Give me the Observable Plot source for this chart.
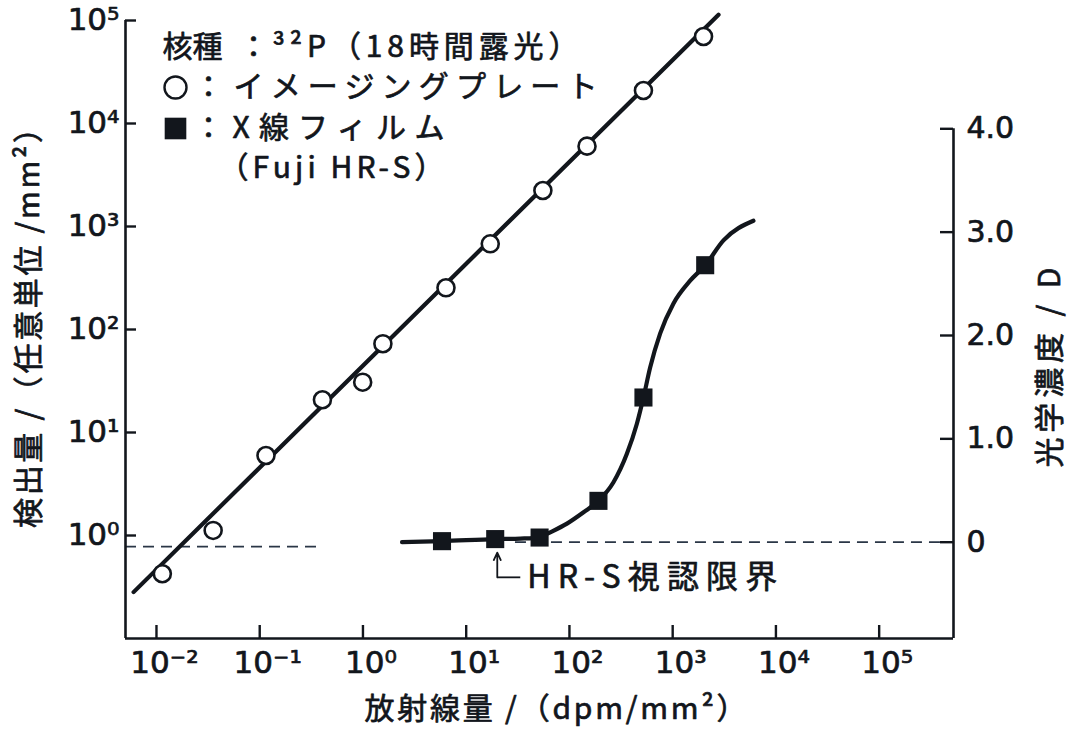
<!DOCTYPE html>
<html>
<head>
<meta charset="utf-8">
<script src="https://cdn.jsdelivr.net/npm/d3@7"></script>
<script src="https://cdn.jsdelivr.net/npm/@observablehq/plot@0.6"></script>
<style>
html, body { margin: 0; padding: 0; background: #ffffff; }
#chart svg { display: block; }
</style>
</head>
<body>
<div id="chart"></div>
<script>
// ---- data ----
// imaging plate (open circles): dose (dpm/mm²) and detected signal (arbitrary units/mm²)
const ipDose   = [0.0114, 0.0354, 0.115, 0.405, 0.994, 1.56, 6.37, 17.1, 55.3, 148, 521, 1990];
const ipSignal = [0.425, 1.12, 5.98, 20.8, 30.8, 72.8, 254, 679, 2235, 6025, 20900, 69900];
// fitted straight line for imaging plate (end points)
const ipFitDose   = [0.006, 2780];
const ipFitSignal = [0.282, 114000];
// X-ray film (filled squares): dose and optical density D
const filmDose    = [5.83, 19.1, 51.4, 191, 521, 2065];
const filmDensity = [0.01, 0.03, 0.045, 0.40, 1.40, 2.68];
// smooth characteristic curve of the film
const filmCurveDose    = [2.39, 5.83, 19.1, 33.4, 51.4, 60.5, 94.6, 137, 191, 267, 360, 450, 521, 605, 757, 1018, 1476, 2065, 3104, 6053];
const filmCurveDensity = [0.0, 0.01, 0.03, 0.035, 0.045, 0.08, 0.18, 0.29, 0.40, 0.58, 0.855, 1.146, 1.40, 1.69, 2.02, 2.31, 2.53, 2.68, 2.92, 3.11];
// detection limits
const ipLimitSignal = 0.78;      // dashed line on the left (imaging plate)
const ipLimitDoseEnd = 0.39;     // where that dashed line ends
const filmLimitDensity = 0;      // dashed line on the right (film fog level)
const filmLimitDoseStart = 30;
const hrsArrowDose = 20;         // "HR-S視認限界" arrow
const hrsArrowBend = 33.4;
const hrsLabelDose = 39;
const hrsLabelDensity = -0.34;

// ticks
const xTicks = [1e-2, 1e-1, 1e0, 1e1, 1e2, 1e3, 1e4, 1e5];
const xTickLabels = ["10⁻²", "10⁻¹", "10⁰", "10¹", "10²", "10³", "10⁴", "10⁵"];
const yTicks = [1e0, 1e1, 1e2, 1e3, 1e4, 1e5];
const yTickLabels = ["10⁰", "10¹", "10²", "10³", "10⁴", "10⁵"];
const dTicks = [0, 1, 2, 3, 4];
const dTickLabels = ["0", "1.0", "2.0", "3.0", "4.0"];

// texts
const legendTitleA = "核種";
const legendTitleB = "³²P（18時間露光）";
const legendIP = "イメージングプレート";
const legendFilm = "X線フィルム";
const legendFilmSub = "（Fuji HR-S）";
const hrsLabel = "HR-S視認限界";
const xTitle = "放射線量 /（dpm/mm²）";
const yTitle = "検出量 /（任意単位 /mm²）";
const dTitle = "光学濃度 / D";

// ---- layout ----
const W = 1076, H = 733;
const mL = 125, mR = 123, mT = 20, mB = 95;
const frameW = W - mL - mR, frameH = H - mT - mB;
const xDomain = [Math.pow(10, -2.3), Math.pow(10, 5.72)];
const yDomain = [0.1, 1e5];
// the right-hand optical-density axis shares the log y scale: D -> equivalent position
const dToY = d => Math.pow(10, -0.065 + 1.0034 * d);

const ink = "#12161c";
const dash = "#2a3646";
const numFont = "DejaVu Sans, Noto Sans, sans-serif";
const jpFont = "Noto Sans CJK JP, Noto Sans, sans-serif";
const bold = {stroke: ink, strokeWidth: 0.7};   // slight thickening, as in the printed original

const ipPts = ipDose.map((x, i) => ({x, y: ipSignal[i]}));
const ipFit = ipFitDose.map((x, i) => ({x, y: ipFitSignal[i]}));
const filmPts = filmDose.map((x, i) => ({x, y: dToY(filmDensity[i])}));
const filmCurve = filmCurveDose.map((x, i) => ({x, y: dToY(filmCurveDensity[i])}));

const plot = Plot.plot({
  width: W, height: H,
  marginLeft: mL, marginRight: mR, marginTop: mT, marginBottom: mB,
  x: {type: "log", domain: xDomain, axis: null},
  y: {type: "log", domain: yDomain, axis: null},
  style: {background: "#ffffff", color: ink, fontFamily: jpFont, overflow: "visible"},
  marks: [
    // dashed detection limits
    Plot.ruleY([ipLimitSignal], {x1: () => xDomain[0], x2: () => ipLimitDoseEnd, stroke: dash, strokeWidth: 1.8, strokeDasharray: "11,7"}),
    Plot.ruleY([dToY(filmLimitDensity)], {x1: () => filmLimitDoseStart, x2: () => xDomain[1], stroke: dash, strokeWidth: 1.8, strokeDasharray: "11,7"}),

    // axis lines
    Plot.ruleX([xDomain[0]], {stroke: ink, strokeWidth: 2.6}),
    Plot.ruleY([yDomain[0]], {stroke: ink, strokeWidth: 2.6}),
    Plot.ruleX([xDomain[1]], {y1: () => dToY(4), y2: () => yDomain[0], stroke: ink, strokeWidth: 2.6}),

    // ticks (inward)
    Plot.tickY(yTicks, {y: d => d, insetRight: frameW - 11, stroke: ink, strokeWidth: 2.4}),
    Plot.tickY(dTicks, {y: d => dToY(d), insetLeft: frameW - 13, stroke: ink, strokeWidth: 2.4}),
    Plot.tickX(xTicks, {x: d => d, insetTop: frameH - 13, stroke: ink, strokeWidth: 2.4}),

    // tick labels
    Plot.text(yTicks, {y: d => d, text: (d, i) => yTickLabels[i], frameAnchor: "left", dx: -6, textAnchor: "end", lineAnchor: "middle", fontSize: 31, fontFamily: numFont, fill: ink, ...bold}),
    Plot.text(xTicks, {x: d => d, text: (d, i) => xTickLabels[i], frameAnchor: "bottom", dx: 8, dy: 25, textAnchor: "middle", lineAnchor: "middle", fontSize: 31, fontFamily: numFont, fill: ink, ...bold}),
    Plot.text(dTicks, {y: d => dToY(d), text: (d, i) => dTickLabels[i], frameAnchor: "right", dx: 13, textAnchor: "start", lineAnchor: "middle", fontSize: 30, fontFamily: numFont, fill: ink, ...bold}),

    // axis titles
    Plot.text([xTitle], {frameAnchor: "bottom", dx: 16, dy: 71, textAnchor: "middle", lineAnchor: "middle", fontSize: 30, fill: ink, ...bold}),
    Plot.text([yTitle], {frameAnchor: "left", dx: -96, dy: -9, rotate: -90, textAnchor: "middle", lineAnchor: "middle", fontSize: 30, fill: ink, ...bold}),
    Plot.text([dTitle], {frameAnchor: "right", dx: 97, dy: 38, rotate: -90, textAnchor: "middle", lineAnchor: "middle", fontSize: 30, fill: ink, ...bold}),

    // imaging plate: fit line and points
    Plot.line(ipFit, {x: "x", y: "y", stroke: ink, strokeWidth: 4.2, clip: false}),
    Plot.dot(ipPts, {x: "x", y: "y", r: 8.5, fill: "#ffffff", stroke: ink, strokeWidth: 2.6}),

    // film: curve and points
    Plot.line(filmCurve, {x: "x", y: "y", stroke: ink, strokeWidth: 4.2, curve: "monotone-x"}),
    Plot.dot(filmPts, {x: "x", y: "y", symbol: "square", r: 10.2, fill: ink, stroke: "none"}),

    // HR-S visual limit annotation
    Plot.arrow([0], {x1: () => hrsArrowDose, y1: () => dToY(hrsLabelDensity), x2: () => hrsArrowDose, y2: () => dToY(-0.1), stroke: ink, strokeWidth: 1.8, headLength: 9, headAngle: 50}),
    Plot.link([0], {x1: () => hrsArrowDose, y1: () => dToY(hrsLabelDensity), x2: () => hrsArrowBend, y2: () => dToY(hrsLabelDensity), stroke: ink, strokeWidth: 1.8}),
    Plot.text([hrsLabel], {x: () => hrsLabelDose, y: () => dToY(hrsLabelDensity), textAnchor: "start", lineAnchor: "middle", fontSize: 32, fill: ink, ...bold}),

    // legend block
    Plot.text([legendTitleA], {frameAnchor: "top-left", dx: 37, dy: 27, textAnchor: "start", lineAnchor: "middle", fontSize: 30, fill: ink, ...bold}),
    Plot.text(["："], {frameAnchor: "top-left", dx: 128, dy: 27, textAnchor: "middle", lineAnchor: "middle", fontSize: 30, fill: ink, ...bold}),
    Plot.text(["："], {frameAnchor: "top-left", dx: 83, dy: 67, textAnchor: "middle", lineAnchor: "middle", fontSize: 30, fill: ink, ...bold}),
    Plot.text(["："], {frameAnchor: "top-left", dx: 83, dy: 108, textAnchor: "middle", lineAnchor: "middle", fontSize: 30, fill: ink, ...bold}),
    Plot.text([legendTitleB], {frameAnchor: "top-left", dx: 147, dy: 27, textAnchor: "start", lineAnchor: "middle", fontSize: 30, fill: ink, ...bold}),
    Plot.dot([0], {frameAnchor: "top-left", dx: 50, dy: 67, r: 11, fill: "#ffffff", stroke: ink, strokeWidth: 2.4}),
    Plot.text([legendIP], {frameAnchor: "top-left", dx: 108, dy: 67, textAnchor: "start", lineAnchor: "middle", fontSize: 30, fill: ink, ...bold}),
    Plot.dot([0], {frameAnchor: "top-left", dx: 50, dy: 108, symbol: "square", r: 12.2, fill: ink}),
    Plot.text([legendFilm], {frameAnchor: "top-left", dx: 107, dy: 108, textAnchor: "start", lineAnchor: "middle", fontSize: 30, fill: ink, ...bold}),
    Plot.text([legendFilmSub], {frameAnchor: "top-left", dx: 93, dy: 148, textAnchor: "start", lineAnchor: "middle", fontSize: 30, fill: ink, ...bold})
  ]
});

// the reference sets these Japanese labels loosely: stretch them to the measured lengths
const lengths = new Map([
  [legendIP, 364], [legendFilm, 212], [legendTitleB, 306], [legendFilmSub, 226],
  [hrsLabel, 250], [xTitle, 382], [yTitle, 415], [dTitle, 200]
]);
plot.querySelectorAll("text").forEach(t => {
  const L = lengths.get(t.textContent);
  if (L) {
    t.setAttribute("textLength", L);
    t.setAttribute("lengthAdjust", "spacing");
  }
});

document.getElementById("chart").appendChild(plot);
</script>
</body>
</html>
